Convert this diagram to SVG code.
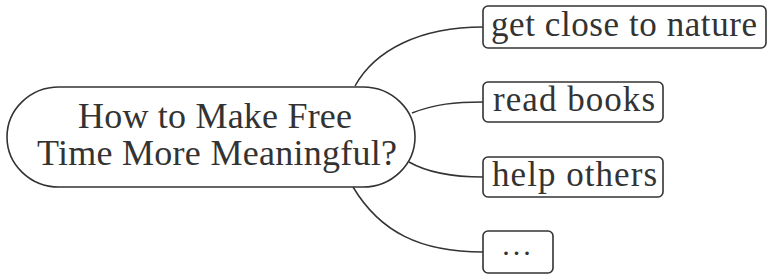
<svg xmlns="http://www.w3.org/2000/svg" width="774" height="275" viewBox="0 0 774 275">
<style>
.shape{fill:#fff;stroke:#333;stroke-width:1.6}
.conn{fill:none;stroke:#333;stroke-width:1.5}
.t{font-family:"Liberation Serif","Times New Roman",serif;fill:#333}
.c{font-size:36px}
.b{font-size:35px}
</style>
<rect width="774" height="275" fill="#fff"/>
<g id="connectors">
<path class="conn" d="M355,86 C375,50 420,27 483,27"/>
<path class="conn" d="M412,113 C435,104 455,102 483,102"/>
<path class="conn" d="M409,162 C430,174 455,177 483,177"/>
<path class="conn" d="M353,187 C380,232 420,252 483,252"/>
</g>
<g id="center">
<rect class="shape" x="7" y="87" width="408" height="100" rx="52" ry="50"/>
<text class="t c" x="78" y="128" textLength="274" lengthAdjust="spacing">How to Make Free</text>
<text class="t c" x="37" y="165" textLength="360" lengthAdjust="spacing">Time More Meaningful?</text>
</g>
<g id="nature">
<rect class="shape" x="483" y="6" width="283" height="42" rx="5"/>
<text class="t b" x="491" y="36" textLength="266" lengthAdjust="spacing">get close to nature</text>
</g>
<g id="books">
<rect class="shape" x="483" y="82" width="180" height="40" rx="5"/>
<text class="t b" x="493" y="111" textLength="162" lengthAdjust="spacing">read books</text>
</g>
<g id="others">
<rect class="shape" x="483" y="157" width="180" height="40" rx="5"/>
<text class="t b" x="492" y="186" textLength="165" lengthAdjust="spacing">help others</text>
</g>
<g id="more">
<rect class="shape" x="483" y="231" width="70" height="42" rx="5"/>
<text class="t" x="518" y="255" text-anchor="middle" font-size="30" letter-spacing="3">...</text>
</g>
</svg>
